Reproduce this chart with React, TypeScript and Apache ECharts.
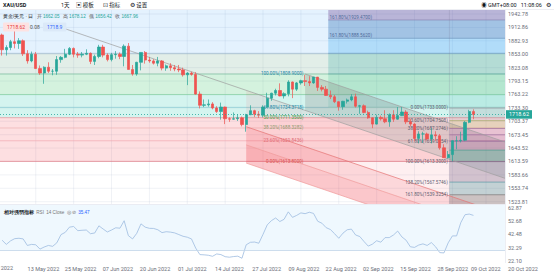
import React, { useEffect, useRef } from 'react';
import * as echarts from 'echarts';

const FONT = 'Roboto, "Noto Sans CJK SC", "Noto Sans", sans-serif';

// ---------- axis ticks ----------
const priceTicks = [1523.81, 1553.74, 1583.66, 1613.59, 1643.52, 1673.45, 1703.37, 1733.30, 1763.22, 1793.15, 1823.08, 1853.00, 1882.93, 1912.86, 1942.78];
const rsiTicks = [22.10, 32.29, 42.48, 52.68, 62.87];
const dateTickIdx = [8, 17, 26, 35, 44, 53, 62, 71, 80, 89, 98, 107, 115, 124];
const dateTickText = ['13 May 2022', '25 May 2022', '07 Jun 2022', '20 Jun 2022', '01 Jul 2022', '14 Jul 2022', '27 Jul 2022', '09 Aug 2022', '22 Aug 2022', '02 Sep 2022', '15 Sep 2022', '28 Sep 2022', '09 Oct 2022', '20 Oct 2022'];
const firstDateText = '02 May 2022';
const lastPrice = 1718.62;

// ---------- candles: [open, close, low, high] ----------
const candles = [
  [1896, 1863, 1850, 1899], [1863, 1868, 1850, 1873], [1868, 1881, 1862, 1885], [1881, 1877, 1866, 1909], [1877, 1883, 1865, 1889],
  [1883, 1854, 1849, 1886], [1854, 1838, 1832, 1862], [1838, 1853, 1835, 1859], [1853, 1821, 1820, 1858], [1821, 1811, 1807, 1828],
  [1811, 1824, 1787, 1826], [1824, 1815, 1811, 1835], [1815, 1815, 1806, 1820], [1815, 1841, 1807, 1849], [1841, 1846, 1834, 1849],
  [1846, 1853, 1844, 1865], [1853, 1866, 1851, 1869], [1866, 1853, 1846, 1868], [1853, 1851, 1845, 1858], [1851, 1853, 1846, 1858],
  [1853, 1855, 1851, 1864], [1855, 1837, 1831, 1857], [1837, 1848, 1829, 1852], [1848, 1869, 1844, 1874], [1869, 1851, 1846, 1874],
  [1851, 1841, 1837, 1855], [1841, 1852, 1837, 1856], [1852, 1853, 1843, 1860], [1853, 1848, 1842, 1857], [1848, 1871, 1826, 1875],
  [1871, 1819, 1819, 1878], [1819, 1809, 1805, 1829], [1809, 1835, 1805, 1836], [1835, 1857, 1817, 1857], [1857, 1840, 1832, 1860],
  [1840, 1838, 1834, 1847], [1838, 1833, 1830, 1842], [1833, 1838, 1826, 1847], [1838, 1822, 1817, 1840], [1822, 1827, 1816, 1830],
  [1827, 1823, 1816, 1833], [1823, 1820, 1815, 1829], [1820, 1818, 1813, 1829], [1818, 1807, 1803, 1823], [1807, 1811, 1784, 1813],
  [1811, 1808, 1805, 1814], [1808, 1764, 1763, 1813], [1764, 1739, 1732, 1770], [1739, 1740, 1735, 1752], [1740, 1742, 1736, 1752],
  [1742, 1733, 1730, 1746], [1733, 1725, 1722, 1737], [1725, 1735, 1707, 1745], [1735, 1709, 1697, 1736], [1709, 1708, 1702, 1712],
  [1708, 1709, 1707, 1723], [1709, 1711, 1704, 1719], [1711, 1696, 1692, 1714], [1696, 1718, 1680, 1720], [1718, 1727, 1717, 1739],
  [1727, 1719, 1713, 1729], [1719, 1717, 1711, 1726], [1717, 1735, 1712, 1739], [1735, 1755, 1733, 1767], [1755, 1766, 1749, 1767],
  [1766, 1772, 1761, 1776], [1772, 1760, 1759, 1788], [1760, 1765, 1754, 1768], [1765, 1791, 1759, 1795], [1791, 1775, 1755, 1792],
  [1775, 1789, 1771, 1791], [1789, 1794, 1785, 1796], [1794, 1792, 1782, 1807], [1792, 1789, 1782, 1804], [1789, 1802, 1787, 1802],
  [1802, 1779, 1771, 1802], [1779, 1775, 1770, 1784], [1775, 1761, 1760, 1782], [1761, 1758, 1753, 1772], [1758, 1747, 1744, 1762],
  [1747, 1736, 1727, 1748], [1736, 1748, 1729, 1749], [1748, 1751, 1743, 1754], [1751, 1758, 1748, 1764], [1758, 1737, 1734, 1765],
  [1737, 1738, 1720, 1740], [1738, 1723, 1721, 1741], [1723, 1711, 1709, 1727], [1711, 1697, 1688, 1712], [1697, 1712, 1696, 1718],
  [1712, 1709, 1705, 1716], [1709, 1702, 1699, 1728], [1702, 1718, 1691, 1721], [1718, 1708, 1702, 1728], [1708, 1716, 1707, 1735],
  [1716, 1724, 1715, 1735], [1724, 1702, 1697, 1728], [1702, 1697, 1692, 1708], [1697, 1665, 1660, 1699], [1665, 1675, 1654, 1681],
  [1675, 1675, 1655, 1680], [1675, 1664, 1661, 1678], [1664, 1673, 1654, 1688], [1673, 1671, 1660, 1681], [1671, 1644, 1640, 1675],
  [1644, 1622, 1622, 1652], [1622, 1629, 1620, 1637], [1629, 1660, 1614, 1661], [1660, 1660, 1641, 1670], [1660, 1661, 1656, 1680],
  [1661, 1701, 1659, 1704], [1701, 1725, 1699, 1729], [1725, 1718.62, 1708, 1730],
];

// ---------- RSI(14) ----------
const rsi = [
  38, 34.8, 37.5, 39.2, 39.5, 39, 34, 34.8, 34.5, 31.2,
  32.8, 34, 33.3, 36, 42.3, 44, 48, 48.5, 45.3, 45.6,
  45.8, 43, 43.5, 49, 46.6, 44.3, 45.8, 47.5, 47.2, 52.9,
  41.5, 39, 43.3, 50.5, 48, 47.1, 47, 46, 43.8, 44.5,
  44.2, 43.6, 42.3, 41, 40.3, 39, 32, 27, 26.8, 26.5,
  25.7, 27.5, 27, 25.4, 25, 25.5, 25.8, 24.2, 34.5, 36.4,
  36.6, 35.7, 42.5, 49.7, 53, 55, 52.3, 54, 59.7, 55.5,
  57, 58.9, 58.3, 59.4, 58.5, 52.5, 51, 47.6, 46.2, 43,
  39.5, 43.4, 46, 46.5, 42, 40.8, 37, 33.5, 35, 37.6,
  36.5, 40, 40, 42, 45, 40.5, 38, 33, 32.5, 34.3,
  35.2, 34, 36.2, 33, 28.5, 28.3, 36, 41.3, 41.3, 51.5,
  57.5, 58, 57,
];

// ---------- drawings (bar index / price anchors) ----------
const fib1Low = 1613.8;
const fib1High = 1808.9;
const fib1Pct = [0, 23.6, 38.2, 50, 61.8, 76.4, 100, 123.6];
const fib1LabelIdx = 71.6;
const fib2Start = 77.5;
const fib2Prices = [1734.37, 1762.86, 1808.9, 1854.94, 1888.56, 1929.47];
const fib2Text = ['', '', '', '', '161.80%(1888.5620)', '161.80%(1929.4700)'];
const fib3Start = 106.3;
const fib3High = 1733.0;
const fib3Low = 1613.3;
const fib3Pct = [0, 23.6, 38.2, 50, 61.8, 78.6, 100, 138.2, 161.8];
const chAnchor = [72, 1808.9];
const chSlope = -3.194;
const chOffsets = [0, -81.2, -162.4, -203.0, -243.6];
const chStarts = [72, 14.5, 58, 58, 58];

// ---------- layout / style ----------
const X_L = -0.5, X_R = 119.5;
const P_TOP = 1951.71, P_BOT = 1518.68;
const fib1Fill = ['rgba(242,54,69,0.16)', 'rgba(242,54,69,0.16)', 'rgba(242,54,69,0.16)', 'rgba(0,188,160,0.17)', 'rgba(0,188,160,0.17)', 'rgba(0,180,60,0.17)', 'rgba(60,140,100,0.15)', 'rgba(33,150,243,0.12)'];
const fib1Line = ['#e07b86', '#f0a9b0', '#eab0b0', '#e58f98', '#86c9d4', '#7fcf9c', '#73b99a', '#9ab4cc'];
const fib1Lbl = ['#d9534f', '#e06c75', '#8d9a6e', '#43a047', '#1e88a8', '#2e9e6e', '#1e88a8', '#5c7fa3'];
const fib1ShowLabel = [true, true, true, true, true, false, true, false];
const fib2Fill = ['rgba(0,170,150,0.12)', 'rgba(0,160,120,0.15)', 'rgba(0,150,140,0.2)', 'rgba(60,170,240,0.3)', 'rgba(40,110,180,0.35)', 'rgba(120,90,160,0.4)'];
const fib2Line = ['#a8dccf', '#93d3b5', '#7fb9b9', '#7ea7c9', '#6f95bd', '#8c86b5'];
const fib3Fill = ['rgba(120,123,134,0.18)', 'rgba(150,160,60,0.22)', 'rgba(150,80,150,0.2)', 'rgba(150,80,150,0.24)', 'rgba(130,70,140,0.26)', 'rgba(0,140,120,0.3)', 'rgba(110,90,130,0.3)', 'rgba(60,140,150,0.3)', 'rgba(90,90,90,0.3)'];
const fib3Line = ['#8d8f99', '#a6ad6a', '#9c6f9c', '#9c6f9c', '#8b5f96', '#3f9d8c', '#7f6b8f', '#5b9aa3', '#777'];
const fib3ShowLabel = [true, true, true, false, true, false, true, true, true];
const chFill = ['rgba(120,110,110,0.22)', 'rgba(242,54,69,0.08)', 'rgba(242,54,69,0.2)', 'rgba(242,54,69,0.28)'];
const chLine = ['#9e9e9e', '#9e9e9e', '#e57373', '#ef9a9a', '#ef9a9a'];

function buildShapes() {
  const s: any[] = [];
  priceTicks.forEach((p) => s.push({ k: 'hline', i0: X_L, i1: X_R, p, stroke: 'rgba(170,180,200,0.35)', w: 0.5 }));
  dateTickIdx.forEach((i) => {
    if (i > X_L && i < X_R) s.push({ k: 'vline', i, p0: P_BOT, p1: P_TOP, stroke: 'rgba(170,180,200,0.35)', w: 0.5 });
  });
  const f1 = fib1Pct.map((q) => fib1Low + (q / 100) * (fib1High - fib1Low));
  f1.forEach((p, j) => {
    const top = j < f1.length - 1 ? f1[j + 1] : P_TOP;
    s.push({ k: 'rect', i0: X_L, i1: X_R, p0: p, p1: top, fill: fib1Fill[j] });
  });
  f1.forEach((p, j) => s.push({ k: 'hline', i0: X_L, i1: X_R, p, stroke: fib1Line[j], w: 0.7 }));
  fib2Prices.forEach((p, j) => {
    const top = j < fib2Prices.length - 1 ? fib2Prices[j + 1] : P_TOP;
    s.push({ k: 'rect', i0: fib2Start, i1: X_R, p0: p, p1: top, fill: fib2Fill[j] });
  });
  fib2Prices.forEach((p, j) => s.push({ k: 'hline', i0: fib2Start, i1: X_R, p, stroke: fib2Line[j], w: 0.7 }));
  const chP = (j: number, i: number) => chAnchor[1] + chOffsets[j] + chSlope * (i - chAnchor[0]);
  for (let j = 0; j < chOffsets.length - 1; j++) {
    const st = Math.max(chStarts[j], chStarts[j + 1]);
    s.push({ k: 'poly', pts: [[st, chP(j, st)], [X_R + 2, chP(j, X_R + 2)], [X_R + 2, chP(j + 1, X_R + 2)], [st, chP(j + 1, st)]], fill: chFill[j] });
  }
  const f3 = fib3Pct.map((q) => fib3High - (q / 100) * (fib3High - fib3Low));
  f3.forEach((p, j) => {
    const bot = j < f3.length - 1 ? f3[j + 1] : P_BOT;
    s.push({ k: 'rect', i0: fib3Start, i1: X_R, p0: bot, p1: p, fill: fib3Fill[j] });
  });
  f3.forEach((p, j) => s.push({ k: 'hline', i0: fib3Start, i1: X_R, p, stroke: fib3Line[j], w: 0.7 }));
  s.push({ k: 'vline', i: fib3Start, p0: P_BOT, p1: P_TOP, stroke: 'rgba(120,120,150,0.35)', w: 0.6 });
  chOffsets.forEach((_, j) => {
    const st = chStarts[j];
    s.push({ k: 'seg', a: [st, chP(j, st)], b: [X_R + 2, chP(j, X_R + 2)], stroke: chLine[j], w: 0.7 });
  });
  f1.forEach((p, j) => {
    if (fib1ShowLabel[j]) s.push({ k: 'text', i: fib1LabelIdx, p, text: `${fib1Pct[j].toFixed(2)}%(${p.toFixed(4)})`, color: fib1Lbl[j], align: 'right', va: 'middle' });
  });
  fib2Prices.forEach((p, j) => {
    if (fib2Text[j]) s.push({ k: 'text', i: fib2Start + 0.3, p, text: fib2Text[j], color: '#4d6a99', align: 'left', va: 'bottom' });
  });
  f3.forEach((p, j) => {
    if (fib3ShowLabel[j]) s.push({ k: 'text', i: fib3Start - 0.4, p, text: `${fib3Pct[j].toFixed(2)}%(${p.toFixed(4)})`, color: '#5d6170', align: 'right', va: 'middle' });
  });
  return s;
}

function buildOption() {
  const shapes = buildShapes();
  const axisLbl = { fontSize: 5.5, color: '#6a6d78', fontFamily: FONT };
  const dateLabel = (v: number) => {
    const k = dateTickIdx.indexOf(Math.round(v));
    return k >= 0 ? dateTickText[k] : '';
  };
  return {
    animation: false,
    textStyle: { fontFamily: FONT },
    grid: [
      { left: 0, top: 10, width: 505, height: 194 },
      { left: 0, top: 204.5, width: 505, height: 58.5 },
      { left: -8.4167, top: 263, width: 563.9, height: 1 },
    ],
    xAxis: [
      { type: 'value', gridIndex: 0, min: X_L, max: X_R, axisLine: { show: false }, axisTick: { show: false }, axisLabel: { show: false }, splitLine: { show: false } },
      { type: 'value', gridIndex: 1, min: X_L, max: X_R, axisLine: { show: false }, axisTick: { show: false }, axisLabel: { show: false }, splitLine: { show: false } },
      {
        type: 'value', gridIndex: 2, min: -2.5, max: 131.5,
        axisLine: { show: false }, axisTick: { show: false, customValues: dateTickIdx },
        axisLabel: { ...axisLbl, margin: 2, customValues: dateTickIdx, formatter: dateLabel },
        splitLine: { show: false },
      },
    ],
    yAxis: [
      {
        type: 'value', gridIndex: 0, position: 'right', min: P_BOT, max: P_TOP,
        axisLine: { show: false }, axisTick: { show: false, customValues: priceTicks },
        axisLabel: { ...axisLbl, margin: 3, customValues: priceTicks, formatter: (v: number) => v.toFixed(2) },
        splitLine: { show: false },
      },
      {
        type: 'value', gridIndex: 1, position: 'right', min: 20.57, max: 65.32,
        axisLine: { show: false }, axisTick: { show: false, customValues: rsiTicks },
        axisLabel: { ...axisLbl, margin: 3, customValues: rsiTicks, formatter: (v: number) => v.toFixed(2) },
        splitLine: { show: false },
      },
      { type: 'value', gridIndex: 2, show: false },
    ],
    series: [
      {
        type: 'custom', name: 'drawings', xAxisIndex: 0, yAxisIndex: 0, z: 1, clip: true, silent: true,
        data: shapes.map(() => [0, 1700]),
        encode: { x: 0, y: 1 },
        renderItem: (params: any, api: any) => {
          const sh = shapes[params.dataIndex];
          const c = (i: number, p: number) => api.coord([i, p]);
          if (sh.k === 'rect') {
            const a = c(sh.i0, sh.p1);
            const b = c(sh.i1, sh.p0);
            return { type: 'rect', shape: { x: a[0], y: a[1], width: b[0] - a[0], height: b[1] - a[1] }, style: { fill: sh.fill } };
          }
          if (sh.k === 'hline') {
            const a = c(sh.i0, sh.p);
            const b = c(sh.i1, sh.p);
            return { type: 'line', shape: { x1: a[0], y1: a[1], x2: b[0], y2: b[1] }, style: { stroke: sh.stroke, lineWidth: sh.w } };
          }
          if (sh.k === 'vline') {
            const a = c(sh.i, sh.p0);
            const b = c(sh.i, sh.p1);
            return { type: 'line', shape: { x1: a[0], y1: a[1], x2: b[0], y2: b[1] }, style: { stroke: sh.stroke, lineWidth: sh.w } };
          }
          if (sh.k === 'seg') {
            const a = c(sh.a[0], sh.a[1]);
            const b = c(sh.b[0], sh.b[1]);
            return { type: 'line', shape: { x1: a[0], y1: a[1], x2: b[0], y2: b[1] }, style: { stroke: sh.stroke, lineWidth: sh.w } };
          }
          if (sh.k === 'poly') {
            return { type: 'polygon', shape: { points: sh.pts.map((q: number[]) => c(q[0], q[1])) }, style: { fill: sh.fill } };
          }
          const a = c(sh.i, sh.p);
          return {
            type: 'text', x: a[0], y: a[1],
            style: { text: sh.text, fill: sh.color, fontSize: 4.6, fontFamily: FONT, align: sh.align, verticalAlign: sh.va },
          };
        },
      },
      {
        type: 'candlestick', name: 'XAU/USD', xAxisIndex: 0, yAxisIndex: 0, z: 3,
        data: candles.map((c, i) => [i, c[0], c[1], c[2], c[3]]),
        encode: { x: 0, y: [1, 2, 3, 4] },
        barWidth: 2.8,
        itemStyle: { color: '#26a69a', color0: '#ef5350', borderColor: '#26a69a', borderColor0: '#ef5350', borderWidth: 0.7 },
        markLine: {
          symbol: 'none', silent: true, animation: false,
          data: [{ yAxis: lastPrice }],
          lineStyle: { color: '#26a69a', type: [1, 2], width: 0.8 },
          label: { position: 'end', formatter: lastPrice.toFixed(2), backgroundColor: '#26a69a', color: '#fff', fontSize: 5.5, padding: [1.5, 3], distance: 1, fontFamily: FONT },
        },
      },
      {
        type: 'line', name: 'RSI', xAxisIndex: 1, yAxisIndex: 1, z: 3,
        data: rsi.map((v, i) => [i, v]),
        showSymbol: false, symbol: 'none',
        lineStyle: { color: '#9dbbe0', width: 0.8 },
        markArea: { silent: true, itemStyle: { color: 'rgba(33,150,243,0.07)' }, data: [[{ yAxis: 30 }, { yAxis: 65.32 }]] },
        markLine: { symbol: 'none', silent: true, label: { show: false }, lineStyle: { color: '#c3d5e8', type: 'solid', width: 0.8 }, data: [{ yAxis: 30 }] },
      },
    ],
    graphic: [
      { type: 'line', z: 100, shape: { x1: 0, y1: 9.5, x2: 554, y2: 9.5 }, style: { stroke: '#e0e3eb', lineWidth: 0.6 } },
      { type: 'line', z: 100, shape: { x1: 0, y1: 204.5, x2: 505, y2: 204.5 }, style: { stroke: '#e0e3eb', lineWidth: 0.6 } },
      { type: 'line', z: 100, shape: { x1: 505.5, y1: 10, x2: 505.5, y2: 263 }, style: { stroke: '#e0e3eb', lineWidth: 0.6 } },
      { type: 'text', z: 100, x: 13, y: 268, style: { text: firstDateText, fontSize: 5.5, fill: '#6a6d78', align: 'right', verticalAlign: 'middle', fontFamily: FONT } },
      { type: 'text', z: 100, x: 3, y: 5, style: { text: 'XAU/USD', fontSize: 5.5, fontWeight: 'bold', fill: '#131722', verticalAlign: 'middle', fontFamily: FONT } },
      { type: 'text', z: 100, x: 61, y: 5, style: { text: '1天', fontSize: 5.5, fill: '#131722', verticalAlign: 'middle', fontFamily: FONT } },
      { type: 'text', z: 100, x: 76, y: 5, style: { text: '▣ 模板', fontSize: 5.5, fill: '#131722', verticalAlign: 'middle', fontFamily: FONT } },
      { type: 'text', z: 100, x: 103, y: 5, style: { text: '⊡ 指标', fontSize: 5.5, fill: '#131722', verticalAlign: 'middle', fontFamily: FONT } },
      { type: 'text', z: 100, x: 130, y: 5, style: { text: '⚙ 设置', fontSize: 5.5, fill: '#131722', verticalAlign: 'middle', fontFamily: FONT } },
      { type: 'text', z: 100, x: 551, y: 5, style: { text: '◉ GMT+08:00   11:08:06   ⚙', fontSize: 5.5, fill: '#131722', align: 'right', verticalAlign: 'middle', fontFamily: FONT } },
      {
        type: 'text', z: 100, x: 3, y: 16,
        style: {
          text: '{t|黄金/美元 · 日}   {k|开} {v|1662.05}   {k|高} {v|1678.12}   {k|低} {v|1656.42}   {k|收} {v|1667.96}',
          fontSize: 4.6, verticalAlign: 'middle', fontFamily: FONT,
          rich: { t: { fill: '#131722', fontSize: 4.6 }, k: { fill: '#555', fontSize: 4.6 }, v: { fill: '#26a69a', fontSize: 4.6 } },
        },
      },
      { type: 'text', z: 100, x: 3, y: 27, style: { text: '1718.62', fontSize: 5, fill: '#e53935', backgroundColor: '#fde2e2', padding: [2, 4], borderRadius: 1, verticalAlign: 'middle', fontFamily: FONT } },
      { type: 'text', z: 100, x: 30, y: 27, style: { text: '0.08', fontSize: 5, fill: '#555', verticalAlign: 'middle', fontFamily: FONT } },
      { type: 'text', z: 100, x: 43, y: 27, style: { text: '1718.9', fontSize: 5, fill: '#2962ff', backgroundColor: '#dbe9f8', padding: [2, 4], borderRadius: 1, verticalAlign: 'middle', fontFamily: FONT } },
      {
        type: 'text', z: 100, x: 4, y: 212,
        style: {
          text: '{t|相对强弱指标}  {k|RSI}  {k|14 Close}  {k|◎ ⊘}  {v|35.47}',
          fontSize: 4.6, verticalAlign: 'middle', fontFamily: FONT,
          rich: { t: { fill: '#131722', fontSize: 4.6, fontWeight: 'bold' }, k: { fill: '#777', fontSize: 4.6 }, v: { fill: '#2962ff', fontSize: 4.6 } },
        },
      },
    ],
  };
}

export default function App() {
  const ref = useRef<HTMLDivElement>(null);
  useEffect(() => {
    const el = ref.current;
    if (!el) return;
    const chart = echarts.init(el, null, { renderer: 'svg', width: 554, height: 272 });
    chart.setOption(buildOption() as any);
    return () => chart.dispose();
  }, []);
  return <div ref={ref} style={{ position: 'fixed', left: 0, top: 0, width: 554, height: 272, background: '#fff' }} />;
}
